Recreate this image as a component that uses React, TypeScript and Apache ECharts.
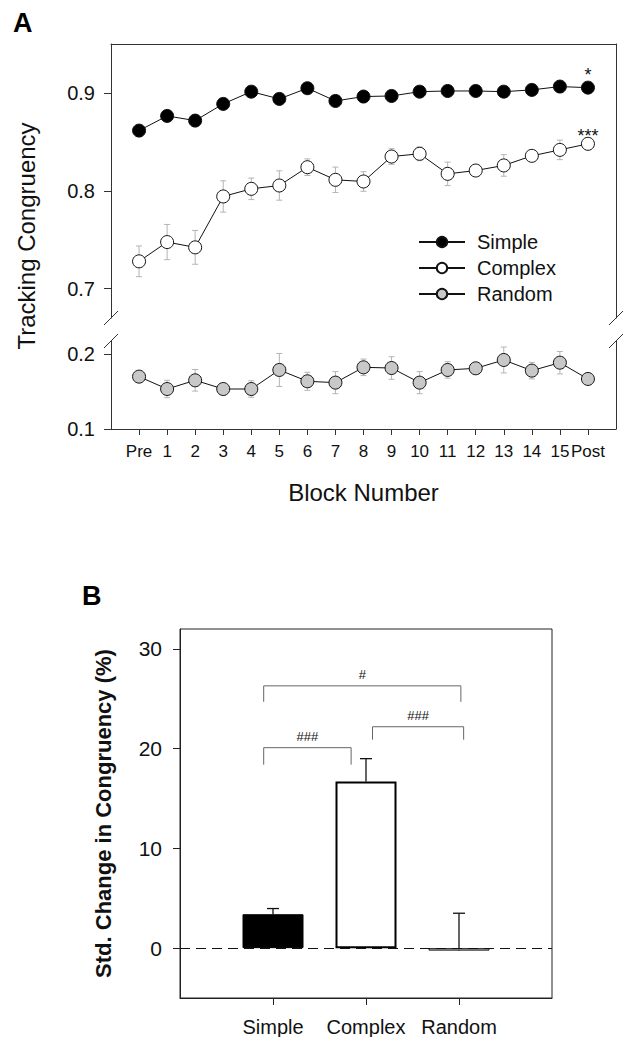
import { useEffect, useRef } from "react";
import * as echarts from "echarts";

// ---------- Data: panel A ----------
const blockLabels = ["Pre", "1", "2", "3", "4", "5", "6", "7", "8", "9", "10", "11", "12", "13", "14", "15", "Post"];
const simpleMean = [0.8615, 0.8765, 0.8717, 0.8888, 0.9013, 0.8939, 0.9048, 0.8918, 0.8963, 0.8969, 0.9013, 0.902, 0.902, 0.9013, 0.9031, 0.9065, 0.9054];
const simpleErr = [0.003, 0.003, 0.003, 0.003, 0.003, 0.003, 0.003, 0.003, 0.003, 0.003, 0.003, 0.003, 0.003, 0.003, 0.003, 0.003, 0.003];
const complexMean = [0.7279, 0.7476, 0.7422, 0.7942, 0.802, 0.8054, 0.8241, 0.8112, 0.8095, 0.835, 0.8378, 0.8173, 0.8207, 0.8259, 0.8357, 0.8418, 0.848];
const complexErr = [0.0157, 0.018, 0.0173, 0.016, 0.011, 0.015, 0.0085, 0.013, 0.01, 0.008, 0.007, 0.012, 0.004, 0.011, 0.005, 0.01, 0.006];
const randomMean = [0.1698, 0.1533, 0.1649, 0.1533, 0.1533, 0.1787, 0.1636, 0.1618, 0.1822, 0.1813, 0.1618, 0.1787, 0.1809, 0.192, 0.1778, 0.1884, 0.1667];
const randomErr = [0.004, 0.0116, 0.0144, 0.005, 0.011, 0.022, 0.012, 0.0147, 0.011, 0.015, 0.0147, 0.011, 0.005, 0.0173, 0.011, 0.015, 0.003];
const seriesNames = ["Simple", "Complex", "Random"];
const postSignificance = ["*", "***"]; // Simple, Complex at Post
const upperTicks = [0.7, 0.8, 0.9];
const lowerTicks = [0.1, 0.2];

// ---------- Data: panel B ----------
const groupNames = ["Simple", "Complex", "Random"];
const changeMean = [3.4, 16.7, -0.25];
const changeErr = [0.57, 2.3, 3.75];
const changeTicks = [0, 10, 20, 30];
// [xFrom, xTo, bracketY, legEndY]
const bracketSpans = [
  [0.9, 3.02, 26.3, 24.7],
  [0.9, 1.84, 20.1, 18.4],
  [2.07, 3.05, 22.2, 20.9],
];
const bracketLabels = ["#", "###", "###"];

const FONT = "Liberation Sans, Arial, sans-serif";

// layout
const A_LEFT = 111, A_WIDTH = 505;
const A_UP_TOP = 44, A_UP_H = 274;
const A_LO_TOP = 341, A_LO_H = 88;

export default function App() {
  const ref = useRef<HTMLDivElement>(null);
  useEffect(() => {
    if (!ref.current) return;
    const chart = echarts.init(ref.current, null, { renderer: "svg" });

    const idx = blockLabels.map((_, i) => i);

    const errRender = (color: string, cap: number, width: number) => (params: any, api: any) => {
      const x = api.value(0), lo = api.value(1), hi = api.value(2);
      const a = api.coord([x, lo]);
      const b = api.coord([x, hi]);
      return {
        type: "group",
        children: [
          { type: "line", shape: { x1: a[0], y1: a[1], x2: b[0], y2: b[1] }, style: { stroke: color, lineWidth: width } },
          { type: "line", shape: { x1: a[0] - cap, y1: a[1], x2: a[0] + cap, y2: a[1] }, style: { stroke: color, lineWidth: width } },
          { type: "line", shape: { x1: b[0] - cap, y1: b[1], x2: b[0] + cap, y2: b[1] }, style: { stroke: color, lineWidth: width } },
        ],
      };
    };

    const errSeries = (mean: number[], err: number[], xi: number, yi: number) => ({
      type: "custom",
      xAxisIndex: xi,
      yAxisIndex: yi,
      z: 1,
      silent: true,
      renderItem: errRender("#b4b4b4", 3, 1),
      data: mean.map((m, i) => [i, m - err[i], m + err[i]]),
    });

    const lineSeries = (name: string, mean: number[], fill: string, xi: number, yi: number, sig?: string) => ({
      name,
      type: "line",
      xAxisIndex: xi,
      yAxisIndex: yi,
      z: 3,
      symbol: "circle",
      symbolSize: 13,
      lineStyle: { color: "#111", width: 1 },
      itemStyle: { color: fill, borderColor: "#111", borderWidth: 1 },
      data: mean.map((m, i) => {
        if (sig && i === mean.length - 1) {
          return {
            value: [i, m],
            label: { show: true, formatter: sig, position: "top", distance: sig.length > 1 ? -8 : -3, fontSize: 18, color: "#111", fontFamily: FONT },
          };
        }
        return [i, m];
      }),
    });

    const slash = (x: number, y: number) => ({
      type: "line",
      shape: { x1: x - 7, y1: y + 7, x2: x + 7, y2: y - 7 },
      style: { stroke: "#333", lineWidth: 1 },
    });

    const axisLine = { show: true, onZero: false, lineStyle: { color: "#333", width: 1 } };

    chart.setOption({
      animation: false,
      textStyle: { fontFamily: FONT },
      grid: [
        { left: A_LEFT, top: A_UP_TOP, width: A_WIDTH, height: A_UP_H },
        { left: A_LEFT, top: A_LO_TOP, width: A_WIDTH, height: A_LO_H },
        { left: 180, top: 629, width: 372, height: 370, show: true, borderColor: "#222", borderWidth: 1 },
      ],
      xAxis: [
        {
          type: "value", gridIndex: 0, min: -1, max: 17, position: "top",
          axisLine, axisTick: { show: false }, axisLabel: { show: false }, splitLine: { show: false },
        },
        {
          type: "value", gridIndex: 1, min: -1, max: 17, position: "bottom",
          axisLine,
          axisTick: { show: true, customValues: idx, length: 6, lineStyle: { color: "#333" } },
          axisLabel: {
            customValues: idx, formatter: (v: number) => blockLabels[Math.round(v)] ?? "",
            fontSize: 17, color: "#111", margin: 14, fontFamily: FONT,
          },
          splitLine: { show: false },
          name: "Block Number", nameLocation: "middle", nameGap: 51,
          nameTextStyle: { fontSize: 24, color: "#111", fontFamily: FONT },
        },
        {
          type: "value", gridIndex: 2, min: 0, max: 4,
          axisLine: { show: true, onZero: false, lineStyle: { color: "#222" } },
          axisTick: { show: true, customValues: [1, 2, 3], length: 7, lineStyle: { color: "#222" } },
          axisLabel: {
            customValues: [1, 2, 3], formatter: (v: number) => groupNames[Math.round(v) - 1] ?? "",
            fontSize: 20, color: "#111", margin: 19, fontFamily: FONT,
          },
          splitLine: { show: false },
        },
      ],
      yAxis: [
        {
          type: "value", gridIndex: 0, min: 0.67, max: 0.95,
          axisLine,
          axisTick: { show: true, customValues: upperTicks, length: 7, lineStyle: { color: "#333" } },
          axisLabel: { customValues: upperTicks, formatter: (v: number) => v.toFixed(1), fontSize: 20, color: "#111", margin: 16, fontFamily: FONT },
          splitLine: { show: false },
        },
        {
          type: "value", gridIndex: 0, min: 0.67, max: 0.95, position: "right",
          axisLine, axisTick: { show: false }, axisLabel: { show: false }, splitLine: { show: false },
        },
        {
          type: "value", gridIndex: 1, min: 0.1, max: 0.2173,
          axisLine,
          axisTick: { show: true, customValues: lowerTicks, length: 7, lineStyle: { color: "#333" } },
          axisLabel: { customValues: lowerTicks, formatter: (v: number) => v.toFixed(1), fontSize: 20, color: "#111", margin: 16, fontFamily: FONT },
          splitLine: { show: false },
        },
        {
          type: "value", gridIndex: 1, min: 0.1, max: 0.2173, position: "right",
          axisLine, axisTick: { show: false }, axisLabel: { show: false }, splitLine: { show: false },
        },
        {
          type: "value", gridIndex: 2, min: -5, max: 32,
          axisLine: { show: true, onZero: false, lineStyle: { color: "#222" } },
          axisTick: { show: true, customValues: changeTicks, length: 7, lineStyle: { color: "#222" } },
          axisLabel: { customValues: changeTicks, fontSize: 21, color: "#111", margin: 18, fontFamily: FONT },
          splitLine: { show: false },
          name: "Std. Change in Congruency (%)", nameLocation: "middle", nameGap: 66,
          nameTextStyle: { fontSize: 22, fontWeight: "bold", color: "#111", fontFamily: FONT },
        },
      ],
      legend: {
        orient: "vertical",
        left: 418,
        top: 232,
        itemWidth: 46,
        itemHeight: 13,
        itemGap: 6,
        padding: 0,
        data: seriesNames,
        textStyle: { fontSize: 20, color: "#111", fontFamily: FONT, padding: [0, 0, 0, 7] },
      },
      series: [
        errSeries(simpleMean, simpleErr, 0, 0),
        errSeries(complexMean, complexErr, 0, 0),
        errSeries(randomMean, randomErr, 1, 2),
        lineSeries(seriesNames[0], simpleMean, "#000", 0, 0, postSignificance[0]),
        lineSeries(seriesNames[1], complexMean, "#fff", 0, 0, postSignificance[1]),
        lineSeries(seriesNames[2], randomMean, "#c8c8c8", 1, 2),
        {
          type: "bar",
          xAxisIndex: 2,
          yAxisIndex: 4,
          barWidth: 61,
          z: 2,
          data: changeMean.map((m, i) => ({
            value: [i + 1, m],
            itemStyle: [
              { color: "#000", borderColor: "#000", borderWidth: 1 },
              { color: "#fff", borderColor: "#000", borderWidth: 2 },
              { color: "#bdbdbd", borderColor: "#222", borderWidth: 1 },
            ][i],
          })),
          markLine: {
            silent: true,
            symbol: ["none", "none"],
            label: { show: false },
            lineStyle: { color: "#111", width: 1, type: [10, 6] },
            data: [{ yAxis: 0 }],
          },
        },
        {
          type: "custom",
          xAxisIndex: 2,
          yAxisIndex: 4,
          z: 1,
          silent: true,
          renderItem: (params: any, api: any) => {
            const x = api.value(0), lo = api.value(1), hi = api.value(2);
            const a = api.coord([x, lo]);
            const b = api.coord([x, hi]);
            return {
              type: "group",
              children: [
                { type: "line", shape: { x1: a[0], y1: a[1], x2: b[0], y2: b[1] }, style: { stroke: "#111", lineWidth: 1.3 } },
                { type: "line", shape: { x1: b[0] - 6, y1: b[1], x2: b[0] + 6, y2: b[1] }, style: { stroke: "#111", lineWidth: 1.3 } },
              ],
            };
          },
          data: changeMean.map((m, i) => [i + 1, m, m + changeErr[i]]),
        },
        {
          type: "custom",
          xAxisIndex: 2,
          yAxisIndex: 4,
          z: 4,
          silent: true,
          renderItem: (params: any, api: any) => {
            const x1 = api.value(0), x2 = api.value(1), y = api.value(2), yl = api.value(3);
            const p1 = api.coord([x1, y]);
            const p2 = api.coord([x2, y]);
            const leg = api.coord([x1, yl]);
            return {
              type: "group",
              children: [
                {
                  type: "polyline",
                  shape: { points: [[p1[0], leg[1]], [p1[0], p1[1]], [p2[0], p2[1]], [p2[0], leg[1]]] },
                  style: { stroke: "#666", lineWidth: 1, fill: "none" },
                },
                {
                  type: "text",
                  x: (p1[0] + p2[0]) / 2,
                  y: p1[1] - 5,
                  style: {
                    text: bracketLabels[params.dataIndex], fontSize: 13, fill: "#111", fontFamily: FONT,
                    textAlign: "center", textVerticalAlign: "bottom",
                  },
                },
              ],
            };
          },
          data: bracketSpans,
        },
      ],
      graphic: [
        { type: "text", x: 13, y: 9, style: { text: "A", fontSize: 27, fontWeight: "bold", fill: "#000", fontFamily: FONT } },
        { type: "text", x: 82, y: 582, style: { text: "B", fontSize: 27, fontWeight: "bold", fill: "#000", fontFamily: FONT } },
        {
          type: "text", x: 26, y: 236, rotation: Math.PI / 2,
          style: { text: "Tracking Congruency", fontSize: 24, fill: "#111", fontFamily: FONT, textAlign: "center", textVerticalAlign: "middle" },
        },
        slash(A_LEFT, A_UP_TOP + A_UP_H),
        slash(A_LEFT, A_LO_TOP),
        slash(A_LEFT + A_WIDTH, A_UP_TOP + A_UP_H),
        slash(A_LEFT + A_WIDTH, A_LO_TOP),
      ],
    });
    return () => chart.dispose();
  }, []);
  return <div ref={ref} style={{ position: "fixed", left: 0, top: 0, width: 641, height: 1037, background: "#fff" }} />;
}
